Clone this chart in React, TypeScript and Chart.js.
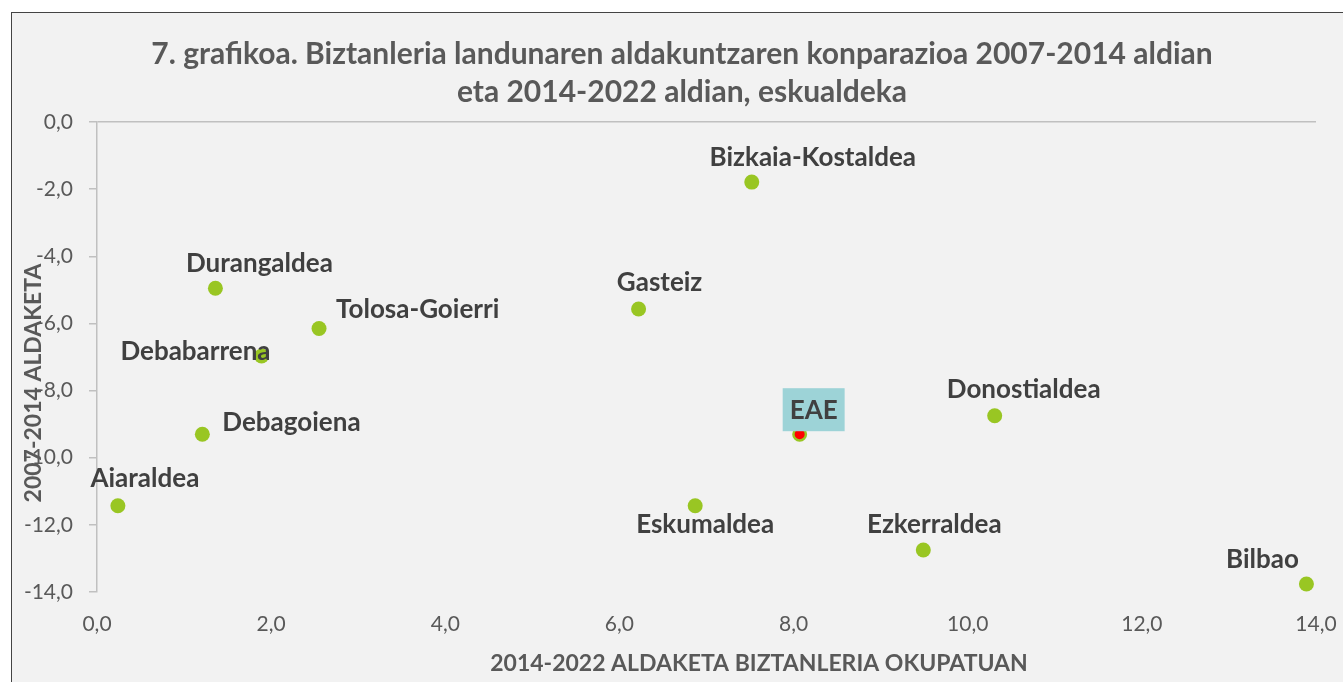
import React, { useEffect, useRef } from "react";
import { Chart, registerables } from "chart.js";

Chart.register(...registerables);

const regions = [
  "Aiaraldea",
  "Debagoiena",
  "Durangaldea",
  "Debabarrena",
  "Tolosa-Goierri",
  "Gasteiz",
  "Eskumaldea",
  "Bizkaia-Kostaldea",
  "EAE",
  "Donostialdea",
  "Ezkerraldea",
  "Bilbao",
];
const change2014to2022 = [0.24, 1.21, 1.36, 1.89, 2.55, 6.22, 6.87, 7.52, 8.07, 10.31, 9.49, 13.89];
const change2007to2014 = [-11.43, -9.3, -4.95, -6.97, -6.15, -5.57, -11.43, -1.79, -9.3, -8.75, -12.75, -13.76];

const titleLines = [
  "7. grafikoa. Biztanleria landunaren aldakuntzaren konparazioa 2007-2014 aldian",
  "eta 2014-2022 aldian, eskualdeka",
];
const xTitle = "2014-2022 ALDAKETA BIZTANLERIA OKUPATUAN";
const yTitle = "2007-2014 ALDAKETA";
const totalLabel = "EAE";

// label placement relative to each point: [dx, dy, align]
const labelPlacement: [number, number, CanvasTextAlign][] = [
  [27, -28, "center"],
  [20, -13, "left"],
  [44, -26, "center"],
  [9, -5, "right"],
  [17, -20, "left"],
  [21, -27, "center"],
  [10, 18, "center"],
  [61, -25, "center"],
  [14, -25, "center"],
  [29, -27, "center"],
  [11, -26, "center"],
  [-44, -25, "center"],
];

const FONT = "Lato, 'Open Sans', sans-serif";
const GREEN = "#99c623";
const fmt = (v: number) => Number(v).toFixed(1).replace(".", ",").replace("-0,0", "0,0");

const decor = {
  id: "decor",
  beforeDraw(chart: any) {
    const { ctx, width, height } = chart;
    ctx.save();
    ctx.fillStyle = "#ffffff";
    ctx.fillRect(0, 0, width, height);
    ctx.fillStyle = "#f2f2f2";
    ctx.fillRect(11, 12, width, height);
    ctx.strokeStyle = "#444444";
    ctx.lineWidth = 1;
    ctx.strokeRect(11.5, 12.5, width + 20, height + 20);
    ctx.restore();
  },
  afterDatasetsDraw(chart: any) {
    const { ctx } = chart;
    const meta = chart.getDatasetMeta(0);
    ctx.save();
    // title
    ctx.fillStyle = "#595959";
    ctx.font = `bold 30px ${FONT}`;
    ctx.textAlign = "center";
    ctx.textBaseline = "alphabetic";
    ctx.fillText(titleLines[0], 682, 64);
    ctx.fillText(titleLines[1], 682, 102);
    // x title
    ctx.font = `bold 23px ${FONT}`;
    ctx.fillText(xTitle, 759, 671);
    // y title
    ctx.save();
    ctx.translate(41, 383);
    ctx.rotate(-Math.PI / 2);
    ctx.fillText(yTitle, 0, 0);
    ctx.restore();
    // point labels
    const size = 26;
    ctx.font = `bold ${size}px ${FONT}`;
    const capHalf = size * 0.36;
    meta.data.forEach((pt: any, i: number) => {
      const [dx, dy, align] = labelPlacement[i];
      const x = pt.x + dx;
      const y = pt.y + dy;
      if (regions[i] === totalLabel) {
        const w = ctx.measureText(regions[i]).width;
        const bw = Math.max(61, w + 14);
        ctx.fillStyle = "#9dd3d7";
        ctx.fillRect(x - bw / 2, y - 21, bw, 43);
      }
      ctx.fillStyle = "#404040";
      ctx.textAlign = align;
      ctx.fillText(regions[i], x, y + capHalf);
    });
    ctx.restore();
  },
};

export default function App() {
  const ref = useRef<HTMLCanvasElement>(null);
  useEffect(() => {
    if (!ref.current) return;
    const points = regions.map((_, i) => ({ x: change2014to2022[i], y: change2007to2014[i] }));
    const chart = new Chart(ref.current, {
      type: "scatter",
      data: {
        datasets: [
          {
            label: "Eskualdeak",
            data: points,
            backgroundColor: regions.map((r) => (r === totalLabel ? "#ff0000" : GREEN)),
            borderColor: GREEN,
            borderWidth: regions.map((r) => (r === totalLabel ? 2.5 : 0)),
            pointRadius: regions.map((r) => (r === totalLabel ? 6.25 : 7.5)),
            pointHoverRadius: 7.5,
          },
        ],
      },
      options: {
        animation: false,
        responsive: false,
        maintainAspectRatio: false,
        clip: false as any,
        layout: { padding: { left: 0, right: 27, top: 122, bottom: 0 } },
        plugins: { legend: { display: false }, title: { display: false }, tooltip: { enabled: false } },
        scales: {
          x: {
            type: "linear",
            min: 0,
            max: 14,
            position: "bottom",
            ticks: {
              stepSize: 2,
              callback: (v: any) => fmt(v),
              color: "#595959",
              font: { family: FONT, size: 21 },
              padding: 20,
            },
            grid: { display: false, drawTicks: false },
            border: { display: false },
            afterFit: (s: any) => {
              s.height = 90;
              s.paddingLeft = 0;
              s.paddingRight = 0;
            },
          },
          y: {
            type: "linear",
            min: -14,
            max: 0,
            ticks: {
              stepSize: 2,
              callback: (v: any) => fmt(v),
              color: "#595959",
              font: { family: FONT, size: 21 },
              padding: 16,
            },
            grid: {
              color: (c: any) => (c.tick && c.tick.value === 0 ? "#c0c0c0" : "rgba(0,0,0,0)"),
              lineWidth: 1.5,
              tickLength: 8,
              tickColor: "#c0c0c0",
            },
            border: { display: true, color: "#c0c0c0", width: 1.5 },
            afterFit: (s: any) => {
              s.width = 97;
              s.paddingTop = 0;
              s.paddingBottom = 0;
            },
          },
        },
      },
      plugins: [decor],
    });
    return () => chart.destroy();
  }, []);
  return (
    <div style={{ position: "fixed", left: 0, top: 0, width: 1343, height: 682, overflow: "hidden", background: "#fff" }}>
      <canvas ref={ref} width={1343} height={682} style={{ display: "block", width: 1343, height: 682 }} />
    </div>
  );
}
